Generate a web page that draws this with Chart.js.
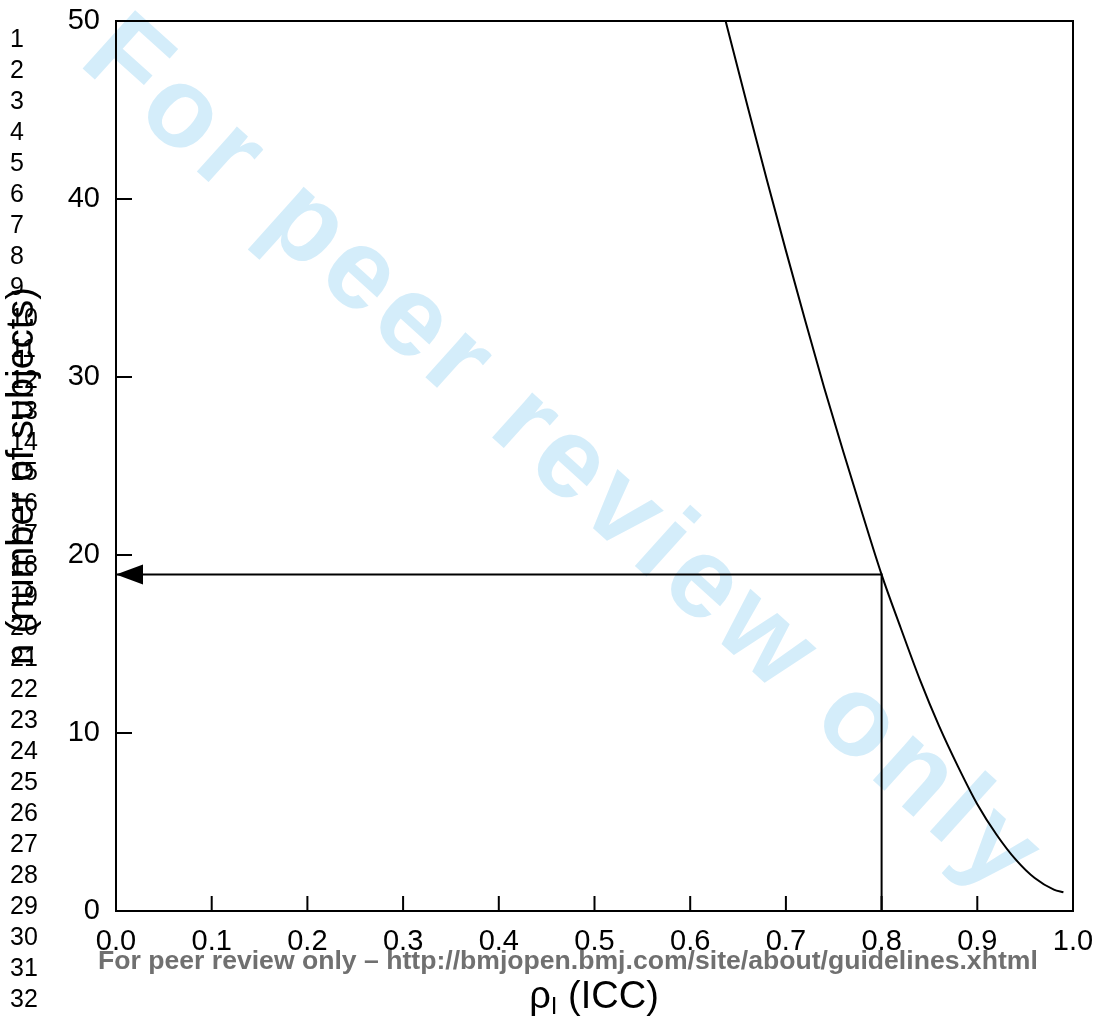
<!DOCTYPE html>
<html>
<head>
<meta charset="utf-8">
<script src="https://cdn.jsdelivr.net/npm/chart.js@4.4.1/dist/chart.umd.min.js"></script>
<style>
  body { margin: 0; background: #fff; }
  canvas { display: block; }
</style>
</head>
<body>
<canvas id="myChart" width="1095" height="1020"></canvas>
<script>
// sample size curve: required subjects n against the ICC
const rhoValues = [0.637, 0.66, 0.68, 0.70, 0.72, 0.74, 0.76, 0.78, 0.80, 0.82, 0.84, 0.86, 0.88, 0.90, 0.92, 0.94, 0.96, 0.98, 0.99];
const nValues   = [50, 45.2, 41.1, 37.1, 33.2, 29.4, 25.8, 22.3, 18.9, 15.9, 13.0, 10.4, 8.1, 6.0, 4.3, 2.9, 1.85, 1.2, 1.05];

const pickRho = 0.8;
const pickN = 18.9;

const xTicks = [0, 0.1, 0.2, 0.3, 0.4, 0.5, 0.6, 0.7, 0.8, 0.9, 1.0];
const yTicks = [0, 10, 20, 30, 40, 50];

const lineNumbers = Array.from({ length: 32 }, (_, i) => String(i + 1));

const FONT = '"Liberation Sans", Arial, sans-serif';

const curvePoints = rhoValues.map((r, i) => ({ x: r, y: nValues[i] }));

const decor = {
  id: 'decor',
  beforeDraw(chart) {
    const ctx = chart.ctx;
    ctx.save();
    ctx.fillStyle = '#fff';
    ctx.fillRect(0, 0, chart.width, chart.height);
    // diagonal watermark
    ctx.translate(562, 458);
    ctx.rotate(42 * Math.PI / 180);
    ctx.font = 'bold 114px ' + FONT;
    ctx.letterSpacing = '7px';
    ctx.fillStyle = 'rgb(212,237,250)';
    ctx.textAlign = 'center';
    ctx.textBaseline = 'middle';
    ctx.fillText('For peer review only', 0, 0);
    ctx.restore();
  },
  afterDatasetsDraw(chart) {
    const ctx = chart.ctx;
    const a = chart.chartArea;
    const xs = chart.scales.x, ys = chart.scales.y;
    ctx.save();
    ctx.strokeStyle = '#000';
    ctx.lineWidth = 2;
    ctx.strokeRect(a.left, a.top, a.right - a.left, a.bottom - a.top);
    // inward tick marks
    ctx.beginPath();
    xTicks.forEach(v => {
      const px = xs.getPixelForValue(v);
      ctx.moveTo(px, a.bottom);
      ctx.lineTo(px, a.bottom - 15);
    });
    yTicks.forEach(v => {
      const py = ys.getPixelForValue(v);
      ctx.moveTo(a.left, py);
      ctx.lineTo(a.left + 16, py);
    });
    ctx.stroke();
    // arrow head at the n axis
    const tipX = xs.getPixelForValue(0);
    const tipY = ys.getPixelForValue(pickN);
    ctx.fillStyle = '#000';
    ctx.beginPath();
    ctx.moveTo(tipX, tipY);
    ctx.lineTo(tipX + 27, tipY - 10);
    ctx.lineTo(tipX + 27, tipY + 10);
    ctx.closePath();
    ctx.fill();
    ctx.restore();
  },
  afterDraw(chart) {
    const ctx = chart.ctx;
    ctx.save();
    ctx.fillStyle = '#000';
    // manuscript line numbers
    ctx.font = '25px ' + FONT;
    ctx.textAlign = 'left';
    ctx.textBaseline = 'middle';
    lineNumbers.forEach((t, i) => ctx.fillText(t, 10, 40 + i * 30.97));

    // y axis title
    ctx.save();
    ctx.translate(23, 476);
    ctx.rotate(-Math.PI / 2);
    ctx.font = '38px ' + FONT;
    ctx.textAlign = 'center';
    ctx.textBaseline = 'middle';
    ctx.fillText('n (number of subjects)', 0, 0);
    ctx.restore();

    // x axis title with subscript
    const main = '38px ' + FONT, sub = '24px ' + FONT;
    ctx.font = main;
    const w1 = ctx.measureText('\u03C1').width;
    const w3 = ctx.measureText(' (ICC)').width;
    ctx.font = sub;
    const w2 = ctx.measureText('I').width;
    let x0 = 594 - (w1 + w2 + w3) / 2;
    const base = 1008;
    ctx.textBaseline = 'alphabetic';
    ctx.font = main;
    ctx.fillText('\u03C1', x0, base);
    ctx.font = sub;
    ctx.fillText('I', x0 + w1, base + 6);
    ctx.font = main;
    ctx.fillText(' (ICC)', x0 + w1 + w2, base);

    // footer
    const foot = 'For peer review only \u2013 http://bmjopen.bmj.com/site/about/guidelines.xhtml';
    ctx.font = 'bold 24px ' + FONT;
    const fw = ctx.measureText(foot).width;
    const size = 24 * 940 / fw;
    ctx.font = 'bold ' + size.toFixed(1) + 'px ' + FONT;
    ctx.fillStyle = 'rgb(112,112,112)';
    ctx.textAlign = 'left';
    ctx.fillText(foot, 98, 969);
    ctx.restore();
  }
};

const ctx = document.getElementById('myChart').getContext('2d');
const chart = new Chart(ctx, {
  type: 'scatter',
  data: {
    datasets: [
      {
        data: curvePoints,
        showLine: true,
        borderColor: '#000',
        borderWidth: 2,
        pointRadius: 0,
        cubicInterpolationMode: 'monotone'
      },
      {
        data: [{ x: pickRho, y: 0 }, { x: pickRho, y: pickN }, { x: 0, y: pickN }],
        showLine: true,
        borderColor: '#000',
        borderWidth: 2,
        pointRadius: 0
      }
    ]
  },
  options: {
    responsive: false,
    animation: false,
    devicePixelRatio: 1,
    layout: { padding: { top: 21, right: 22, left: 0, bottom: 0 } },
    plugins: { legend: { display: false }, tooltip: { enabled: false } },
    scales: {
      x: {
        type: 'linear', min: 0, max: 1,
        afterFit: s => { s.height = 109; s.paddingLeft = 0; s.paddingRight = 0; },
        afterBuildTicks: s => { s.ticks = xTicks.map(v => ({ value: v })); },
        grid: { display: false },
        border: { display: false },
        ticks: {
          autoSkip: false, maxRotation: 0, padding: 6,
          color: '#000', font: { family: FONT, size: 29 },
          callback: v => v.toFixed(1)
        }
      },
      y: {
        type: 'linear', min: 0, max: 50,
        afterFit: s => { s.width = 116; s.paddingTop = 0; s.paddingBottom = 0; },
        afterBuildTicks: s => { s.ticks = yTicks.map(v => ({ value: v })); },
        grid: { display: false },
        border: { display: false },
        ticks: {
          padding: 8,
          color: '#000', font: { family: FONT, size: 29 },
          callback: v => String(v)
        }
      }
    }
  },
  plugins: [decor]
});
</script>
</body>
</html>
